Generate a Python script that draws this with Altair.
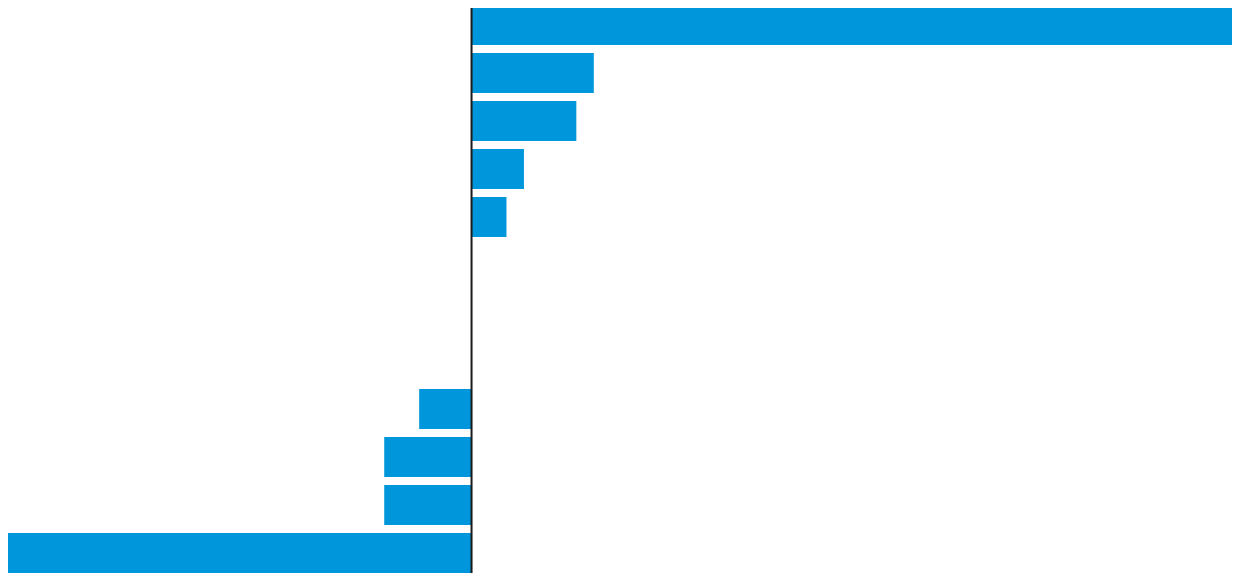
import altair as alt
import pandas as pd

categories = ["c01", "c02", "c03", "c04", "c05", "c06",
              "c07", "c08", "c09", "c10", "c11", "c12"]
values = [44, 7, 6, 3, 2, 0, 0, 0, -3, -5, -5, -27]

df = pd.DataFrame({"category": categories, "value": values})

x_scale = alt.Scale(domain=[-27, 44], range=[-8, 1232], nice=False, zero=True)
y_scale = alt.Scale(domain=categories, range=[-3, 565],
                    paddingInner=1 / 6, paddingOuter=0)

bars = alt.Chart(df).mark_bar(color="#0096DB").encode(
    x=alt.X("value:Q", scale=x_scale, axis=None),
    y=alt.Y("category:N", scale=y_scale, axis=None, sort=None),
)

zero = alt.Chart(pd.DataFrame({"z": [0]})).mark_rule(
    color="#1a1a1a", strokeWidth=2
).encode(
    x=alt.X("z:Q", scale=x_scale, axis=None),
    y=alt.value(-3),
    y2=alt.value(565),
)

chart = (bars + zero).properties(
    width=1224,
    height=568,
    padding=0,
    autosize=alt.AutoSizeParams(type="none"),
).configure_view(stroke=None)

chart.save("out.html", embed_options={"renderer": "svg", "actions": False})
